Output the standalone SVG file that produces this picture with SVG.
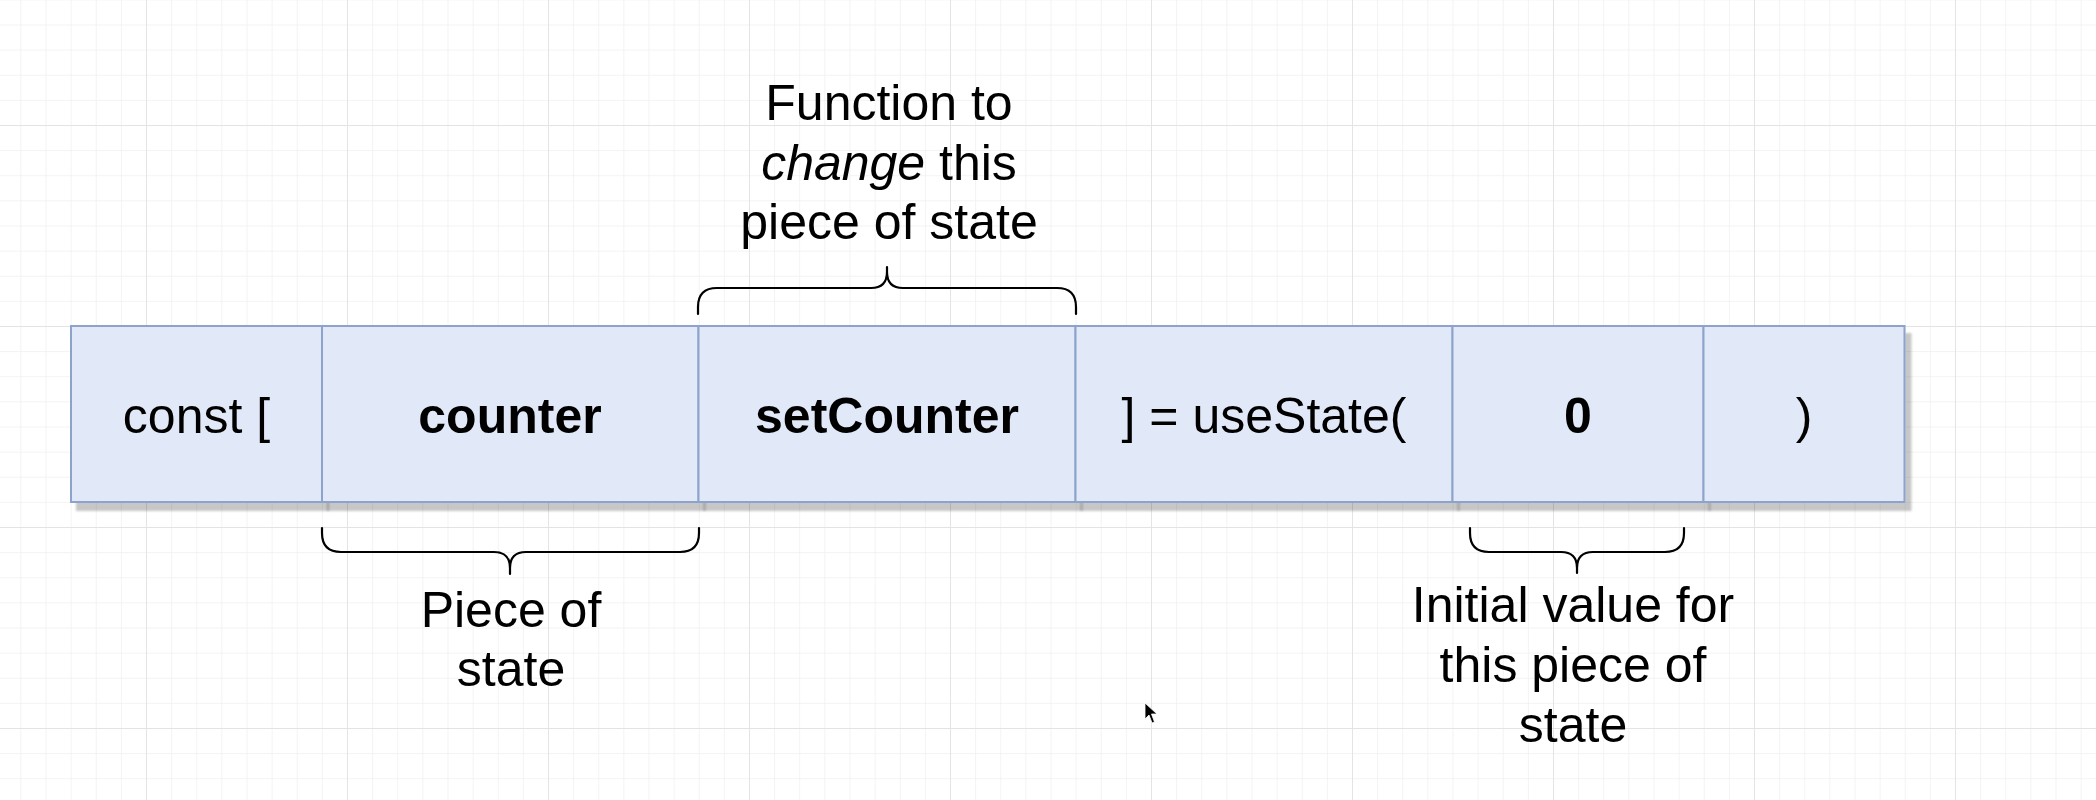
<svg xmlns="http://www.w3.org/2000/svg" width="2096" height="800" viewBox="0 0 2096 800">
  <defs>
    <pattern id="minor" patternUnits="userSpaceOnUse" x="146" y="125" width="25.125" height="25.125">
      <path d="M0,0 L25.125,0 M0,0 L0,25.125" fill="none" stroke="#f0f0f0" stroke-width="1.5"/>
    </pattern>
    <pattern id="major" patternUnits="userSpaceOnUse" x="146" y="125" width="201" height="201">
      <path d="M0,0 L201,0 M0,0 L0,201" fill="none" stroke="#e3e3e3" stroke-width="1.8"/>
    </pattern>
    <filter id="shadow" x="-10%" y="-10%" width="130%" height="130%">
      <feDropShadow dx="6" dy="8" stdDeviation="0.8" flood-color="#000" flood-opacity="0.22"/>
    </filter>
  </defs>
  <style>
    .box { fill: #e1e8f7; stroke: #8ea3cc; stroke-width: 2; filter: url(#shadow); }
    .t { font-family: "Liberation Sans", Arial, Helvetica, sans-serif; font-size: 50px; fill: #000; text-anchor: middle; }
    .b { font-weight: bold; }
    .brace { fill: none; stroke: #000; stroke-width: 2.2; stroke-linecap: round; stroke-linejoin: round; }
  </style>
  <rect x="0" y="0" width="2096" height="800" fill="#ffffff"/>
  <rect x="0" y="0" width="2096" height="800" fill="url(#minor)"/>
  <rect x="0" y="0" width="2096" height="800" fill="url(#major)"/>

  <g id="node-const">
    <rect class="box" x="71" y="326" width="251" height="176"/>
    <text class="t" x="196.5" y="433">const [</text>
  </g>
  <g id="node-counter">
    <rect class="box" x="322" y="326" width="376.5" height="176"/>
    <text class="t b" x="510" y="433">counter</text>
  </g>
  <g id="node-setCounter">
    <rect class="box" x="698.5" y="326" width="377" height="176"/>
    <text class="t b" x="887" y="433">setCounter</text>
  </g>
  <g id="node-useState">
    <rect class="box" x="1075.5" y="326" width="377" height="176"/>
    <text class="t" x="1264" y="433">] = useState(</text>
  </g>
  <g id="node-zero">
    <rect class="box" x="1452.5" y="326" width="251" height="176"/>
    <text class="t b" x="1578" y="433">0</text>
  </g>
  <g id="node-close">
    <rect class="box" x="1703.5" y="326" width="201" height="176"/>
    <text class="t" x="1804" y="433">)</text>
  </g>

  <g id="connectors">
    <path class="brace" d="M698,314 L698,307 Q698,288 717,288 L871,288 Q887,288 887,272 L887,267 M887,272 Q887,288 903,288 L1057,288 Q1076,288 1076,307 L1076,314"/>
    <path class="brace" d="M322,528 L322,533 Q322,552 341,552 L494,552 Q510,552 510,568 L510,574 M510,568 Q510,552 526,552 L680,552 Q699,552 699,533 L699,528"/>
    <path class="brace" d="M1470,528 L1470,533 Q1470,552 1489,552 L1561,552 Q1577,552 1577,568 L1577,573 M1577,568 Q1577,552 1593,552 L1665,552 Q1684,552 1684,533 L1684,528"/>
  </g>

  <g id="label-function">
    <text class="t" x="889" y="120">Function to</text>
    <text class="t" x="889" y="180"><tspan font-style="italic">change</tspan> this</text>
    <text class="t" x="889" y="239">piece of state</text>
  </g>
  <g id="label-piece">
    <text class="t" x="511" y="627">Piece of</text>
    <text class="t" x="511" y="686">state</text>
  </g>
  <g id="label-initial">
    <text class="t" x="1573" y="622">Initial value for</text>
    <text class="t" x="1573" y="682">this piece of</text>
    <text class="t" x="1573" y="742">state</text>
  </g>

  <path d="M1145,703 L1145,719 L1149,715 L1152,723 L1154.5,722 L1151.5,714 L1157,714 Z" fill="#000" stroke="#fff" stroke-width="0.8"/>
</svg>
